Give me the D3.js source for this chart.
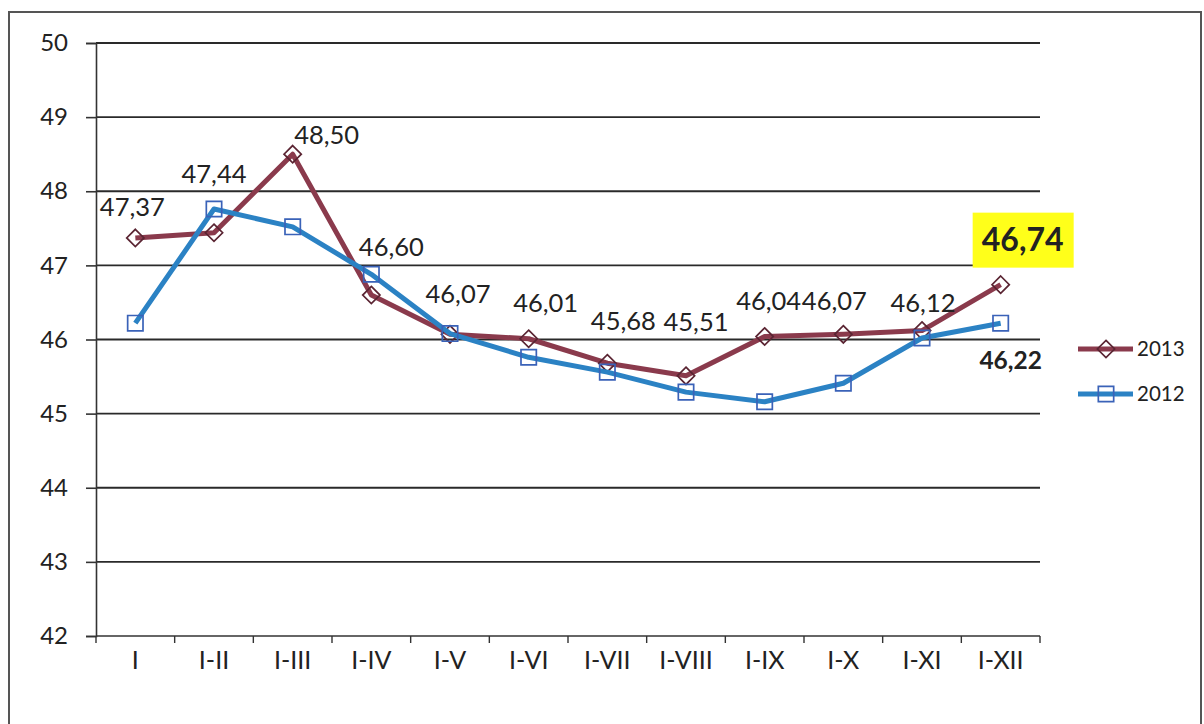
<!DOCTYPE html>
<html>
<head>
<meta charset="utf-8">
<script src="https://d3js.org/d3.v7.min.js"></script>
<style>
  body { margin: 0; background: #fff; }
  text { font-family: Lato, "Open Sans", sans-serif; fill: #222; }
</style>
</head>
<body>
<svg width="1204" height="724"></svg>
<script>

// data
var periods = ["I", "I-II", "I-III", "I-IV", "I-V", "I-VI", "I-VII", "I-VIII", "I-IX", "I-X", "I-XI", "I-XII"];
var values2013 = [47.37, 47.44, 48.50, 46.60, 46.07, 46.01, 45.68, 45.51, 46.04, 46.07, 46.12, 46.74];
var values2012 = [46.22, 47.76, 47.52, 46.88, 46.08, 45.76, 45.56, 45.29, 45.16, 45.41, 46.02, 46.22];
var yTicks = [42, 43, 44, 45, 46, 47, 48, 49, 50];
var seriesNames = ["2013", "2012"];

// hand placed label offsets (dx, dy from the point), as in the original
var labelOffsets2013 = [[-3, -31], [0, -59], [34, -19], [20, -48], [8, -40], [17, -36],
                        [16, -42], [10, -54], [4, -35], [-9, -33], [1, -28], [22, -45]];

var svg = d3.select("svg");
var red = "#8a3a4c", blue = "#2b82c4";
var fmt = function(v) { return v.toFixed(2).replace(".", ","); };

// outer frame
svg.append("rect")
    .attr("x", 9).attr("y", 12)
    .attr("width", 1192).attr("height", 730)
    .attr("fill", "none").attr("stroke", "#555").attr("stroke-width", 2);

var x = d3.scaleBand().domain(periods).range([96, 1040]);
var y = d3.scaleLinear().domain([42, 50]).range([636, 43]);

// gridlines
svg.append("g").selectAll("line")
    .data(yTicks.filter(function(d) { return d > 42; }))
    .enter().append("line")
    .attr("x1", 96).attr("x2", 1040)
    .attr("y1", function(d) { return y(d); })
    .attr("y2", function(d) { return y(d); })
    .attr("stroke", "#2a2a2a").attr("stroke-width", 1.8);

// y axis
var yAxis = svg.append("g")
    .attr("transform", "translate(96,0)")
    .call(d3.axisLeft(y).tickValues(yTicks).tickSize(10).tickPadding(18).tickFormat(d3.format("d")));
yAxis.select(".domain").attr("stroke", "#333").attr("stroke-width", 1.6);
yAxis.selectAll(".tick line").attr("stroke", "#333").attr("stroke-width", 1.6);
yAxis.selectAll(".tick text")
    .style("font-family", "Lato, sans-serif").style("font-size", "24px").attr("fill", "#222");

// x axis: ticks between categories
var xAxis = svg.append("g");
xAxis.append("line")
    .attr("x1", 96).attr("x2", 1040).attr("y1", y(42)).attr("y2", y(42))
    .attr("stroke", "#333").attr("stroke-width", 1.6);
xAxis.selectAll(".xt")
    .data(d3.range(periods.length + 1))
    .enter().append("line")
    .attr("x1", function(i) { return 96 + i * x.step(); })
    .attr("x2", function(i) { return 96 + i * x.step(); })
    .attr("y1", y(42)).attr("y2", y(42) + 7)
    .attr("stroke", "#333").attr("stroke-width", 1.4);
xAxis.selectAll("text")
    .data(periods)
    .enter().append("text")
    .attr("x", function(d) { return x(d) + x.bandwidth() / 2; })
    .attr("y", 669)
    .attr("text-anchor", "middle")
    .style("font-size", "25px")
    .text(function(d) { return d; });

var line = d3.line()
    .x(function(d, i) { return x(periods[i]) + x.bandwidth() / 2; })
    .y(function(d) { return y(d); });

var diamond = d3.symbol().type(d3.symbolDiamond2).size(190);
var square = d3.symbol().type(d3.symbolSquare2).size(300);

function drawSeries(vals, color, markerColor, sym) {
  svg.append("path")
      .datum(vals)
      .attr("d", line)
      .attr("fill", "none")
      .attr("stroke", color)
      .attr("stroke-width", 5)
      .attr("stroke-linejoin", "round");
  svg.append("g").selectAll("path")
      .data(vals)
      .enter().append("path")
      .attr("d", sym)
      .attr("transform", function(d, i) {
        return "translate(" + (x(periods[i]) + x.bandwidth() / 2) + "," + y(d) + ")";
      })
      .attr("fill", "none")
      .attr("stroke", markerColor)
      .attr("stroke-width", 1.7);
}

drawSeries(values2013, red, "#5a2432", diamond);
drawSeries(values2012, blue, "#3a62b8", square);

// labels of 2013
var last = values2013.length - 1;
svg.append("g").selectAll("text")
    .data(values2013.slice(0, last))
    .enter().append("text")
    .attr("x", function(d, i) { return x(periods[i]) + x.bandwidth() / 2 + labelOffsets2013[i][0]; })
    .attr("y", function(d, i) { return y(d) + labelOffsets2013[i][1]; })
    .attr("dy", "0.35em")
    .attr("text-anchor", "middle")
    .style("font-size", "25.5px")
    .text(fmt);

// highlighted last value of 2013
var lx = x(periods[last]) + x.bandwidth() / 2 + labelOffsets2013[last][0];
var ly = y(values2013[last]) + labelOffsets2013[last][1];
svg.append("rect")
    .attr("x", lx - 50).attr("y", ly - 27)
    .attr("width", 101).attr("height", 55)
    .attr("fill", "#ffff1a");
svg.append("text")
    .attr("x", lx).attr("y", ly)
    .attr("dy", "0.35em")
    .attr("text-anchor", "middle")
    .style("font-size", "32px").style("font-weight", "bold")
    .attr("fill", "#2a2238")
    .text(fmt(values2013[last]));

// last value of 2012
svg.append("text")
    .attr("x", x(periods[last]) + x.bandwidth() / 2 + 10)
    .attr("y", y(values2012[last]) + 37)
    .attr("dy", "0.35em")
    .attr("text-anchor", "middle")
    .style("font-size", "24.5px").style("font-weight", "bold")
    .text(fmt(values2012[last]));

// legend
var legend = svg.append("g").selectAll("g")
    .data(seriesNames)
    .enter().append("g")
    .attr("transform", function(d, i) { return "translate(1078," + (349 + i * 45) + ")"; });
legend.append("line")
    .attr("x1", 0).attr("x2", 55)
    .attr("stroke", function(d, i) { return i === 0 ? red : blue; })
    .attr("stroke-width", 5);
legend.append("path")
    .attr("d", function(d, i) { return i === 0 ? diamond() : square(); })
    .attr("transform", "translate(28,0)")
    .attr("fill", "none")
    .attr("stroke", function(d, i) { return i === 0 ? "#5a2432" : "#3a62b8"; })
    .attr("stroke-width", 1.7);
legend.append("text")
    .attr("x", 59).attr("dy", "0.35em")
    .style("font-size", "20.5px")
    .text(function(d) { return d; });

</script>
</body>
</html>
